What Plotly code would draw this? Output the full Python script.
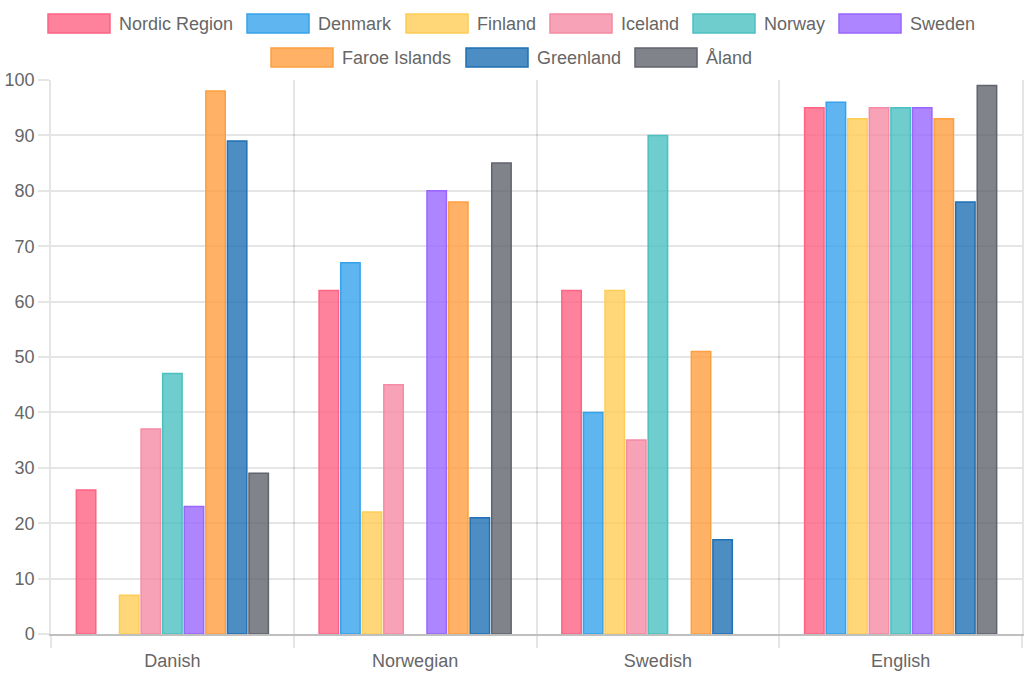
import plotly.graph_objects as go

# ---- data ----
categories = ["Danish", "Norwegian", "Swedish", "English"]
series_names = ["Nordic Region", "Denmark", "Finland", "Iceland", "Norway",
                "Sweden", "Faroe Islands", "Greenland", "Åland"]
nordic_region = [26, 62, 62, 95]
denmark = [None, 67, 40, 96]
finland = [7, 22, 62, 93]
iceland = [37, 45, 35, 95]
norway = [47, None, 90, 95]
sweden = [23, 80, None, 95]
faroe_islands = [98, 78, 51, 93]
greenland = [89, 21, 17, 78]
aland = [29, 85, None, 99]
series_values = [nordic_region, denmark, finland, iceland, norway,
                 sweden, faroe_islands, greenland, aland]
y_ticks = [0, 10, 20, 30, 40, 50, 60, 70, 80, 90, 100]

# ---- styles ----
base_colors = [
    (255, 99, 132), (54, 162, 235), (255, 205, 86), (245, 139, 164),
    (75, 192, 192), (153, 102, 255), (255, 159, 64), (31, 112, 180),
    (96, 100, 109),
]
FONT = "Liberation Sans, Arial, Helvetica, sans-serif"
TXT = "#666666"
GRID = "rgba(0,0,0,0.1)"

W, H = 1024, 678
ML, MR, MT, MB = 51, 2, 80, 44
PW, PH = W - ML - MR, H - MT - MB


def px_x(px):
    return (px - ML) / PW


def px_y(py):
    return (H - MB - py) / PH


fig = go.Figure()
for name, vals, c in zip(series_names, series_values, base_colors):
    fig.add_trace(go.Bar(
        x=categories, y=vals, name=name,
        marker=dict(color="rgba(%d,%d,%d,0.8)" % c,
                    line=dict(color="rgb(%d,%d,%d)" % c, width=1.5)),
        showlegend=False,
    ))

# ---- custom legend (Chart.js style boxes) ----
legend_rows = [0, 0, 0, 0, 0, 0, 1, 1, 1]
legend_left = [48, 247, 406, 550, 693, 839, 271, 466, 635]
row_top = [14, 48]
box_w, box_h, text_gap = 62, 19, 69
shapes = []
annotations = []
for name, c, r, lx in zip(series_names, base_colors, legend_rows, legend_left):
    top = row_top[r]
    shapes.append(dict(
        type="rect", xref="paper", yref="paper",
        x0=px_x(lx), x1=px_x(lx + box_w), y0=px_y(top + box_h), y1=px_y(top),
        fillcolor="rgba(%d,%d,%d,0.8)" % c,
        line=dict(color="rgb(%d,%d,%d)" % c, width=1.5),
    ))
    annotations.append(dict(
        xref="paper", yref="paper", x=px_x(lx + text_gap), y=px_y(top + box_h / 2),
        text=name, showarrow=False, xanchor="left", yanchor="middle",
        font=dict(family=FONT, size=18, color=TXT),
    ))

fig.update_layout(
    width=W, height=H,
    margin=dict(l=ML, r=MR, t=MT, b=MB, autoexpand=False),
    paper_bgcolor="white", plot_bgcolor="white",
    barmode="group", bargap=0.2, bargroupgap=0.1,
    font=dict(family=FONT, size=18, color=TXT),
    shapes=shapes, annotations=annotations,
    showlegend=False,
)
fig.update_xaxes(
    type="category", tickson="boundaries",
    showgrid=True, gridcolor=GRID, gridwidth=1.5,
    ticks="outside", ticklen=12, tickcolor=GRID, tickwidth=1.5,
    ticklabelstandoff=10,
    showline=True, linecolor="rgba(0,0,0,0.25)", linewidth=1.5,
    tickfont=dict(family=FONT, size=18, color=TXT),
    automargin=False,
)
fig.update_yaxes(
    range=[0, 100], tickvals=y_ticks,
    showgrid=True, gridcolor=GRID, gridwidth=1.5,
    zeroline=False,
    ticks="outside", ticklen=11, tickcolor=GRID, tickwidth=1.5,
    showline=True, linecolor=GRID, linewidth=1.5, mirror=True,
    tickfont=dict(family=FONT, size=18, color=TXT),
    automargin=False,
)

fig.write_html(
    "out.html",
    config={"displayModeBar": False},
    post_script="document.body.style.margin='0';document.body.style.padding='0';",
)
